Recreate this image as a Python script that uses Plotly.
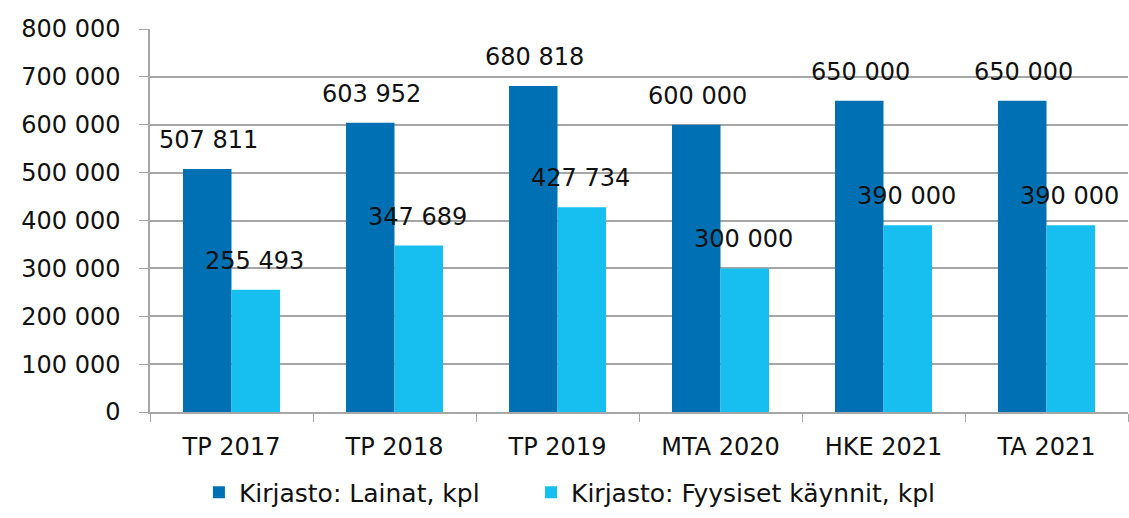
import plotly.graph_objects as go

categories = ["TP 2017", "TP 2018", "TP 2019", "MTA 2020", "HKE 2021", "TA 2021"]
lainat = [507811, 603952, 680818, 600000, 650000, 650000]
kaynnit = [255493, 347689, 427734, 300000, 390000, 390000]
y_ticks = [0, 100000, 200000, 300000, 400000, 500000, 600000, 700000, 800000]

dark = "#0070B4"
light = "#17BEF0"
font_family = "DejaVu Sans"

def fmt(v):
    return f"{v:,}".replace(",", " ")

fig = go.Figure()
fig.add_trace(go.Bar(x=categories, y=lainat, name="Kirjasto: Lainat, kpl",
                     marker=dict(color=dark, line=dict(width=0)),
                     legend="legend", showlegend=True))
fig.add_trace(go.Bar(x=categories, y=kaynnit, name="Kirjasto: Fyysiset käynnit, kpl",
                     marker=dict(color=light, line=dict(width=0)),
                     legend="legend2", showlegend=True))

# data labels above bars
for cat, a, b in zip(categories, lainat, kaynnit):
    fig.add_annotation(x=cat, y=a, text=fmt(a), xshift=-23, yshift=13,
                       yanchor="bottom", showarrow=False)
    fig.add_annotation(x=cat, y=b, text=fmt(b), xshift=23, yshift=13,
                       yanchor="bottom", showarrow=False)

legend_style = dict(orientation="h", xanchor="left", y=-0.15, yanchor="top",
                    font=dict(size=25), itemwidth=30)

fig.update_layout(
    width=1129, height=518,
    margin=dict(l=150, r=1, t=29, b=106),
    plot_bgcolor="white", paper_bgcolor="white",
    barmode="group", bargap=0.405, bargroupgap=0,
    font=dict(family=font_family, size=24, color="#111111"),
    showlegend=True,
    legend=dict(x=0.050, **legend_style),
    legend2=dict(x=0.3896, **legend_style),
)
fig.update_yaxes(range=[0, 800000], tickvals=y_ticks, ticktext=[fmt(v) for v in y_ticks],
                 showgrid=True, gridcolor="#A6A6A6", gridwidth=1.5,
                 showline=True, linecolor="#A6A6A6", linewidth=1.5,
                 ticks="outside", ticklen=9, tickcolor="#A6A6A6", zeroline=False,
                 ticklabelstandoff=14, automargin=False)
fig.update_xaxes(showline=True, linecolor="#A6A6A6", linewidth=1.5,
                 ticks="outside", tickson="boundaries", ticklen=8, tickcolor="#A6A6A6",
                 ticklabelstandoff=12, automargin=False)

fig.write_html("out.html", config={"displayModeBar": False},
               post_script="document.body.style.margin='0';")
